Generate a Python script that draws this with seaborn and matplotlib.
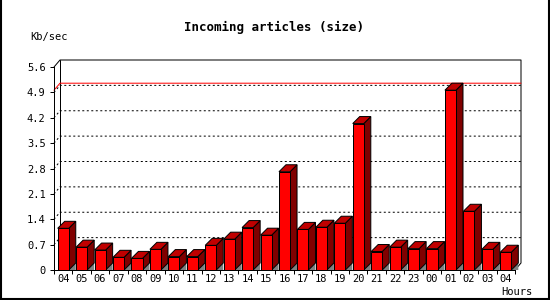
import numpy as np
import pandas as pd
import matplotlib
matplotlib.use('Agg')
import matplotlib.pyplot as plt
import seaborn as sns
from matplotlib.patches import Polygon
from matplotlib.lines import Line2D

# Data
hours = ['04', '05', '06', '07', '08', '09', '10', '11', '12', '13', '14', '15',
         '16', '17', '18', '19', '20', '21', '22', '23', '00', '01', '02', '03', '04']
rate = [1.15, 0.63, 0.55, 0.35, 0.32, 0.57, 0.37, 0.37, 0.68, 0.85, 1.17, 0.96,
        2.71, 1.12, 1.18, 1.29, 4.04, 0.51, 0.63, 0.59, 0.59, 4.96, 1.62, 0.57, 0.49]
y_ticks = [0, 0.7, 1.4, 2.1, 2.8, 3.5, 4.2, 4.9, 5.6]
y_labels = ['0', '0.7', '1.4', '2.1', '2.8', '3.5', '4.2', '4.9', '5.6']

W, H = 550, 300
FRONT = '#FF0000'
TOP = '#C00000'
SIDE = '#800000'
SHADOW = '#808080'
LW = 0.72  # one pixel
MONO = 'DejaVu Sans Mono'

df = pd.DataFrame({'slot': range(len(rate)), 'rate': rate})

sns.set_style('white')
plt.rcParams['font.family'] = [MONO, 'DejaVu Sans']
plt.rcParams['text.color'] = 'black'

fig = plt.figure(figsize=(W / 100, H / 100), dpi=100)
ax = fig.add_axes([54 / W, 30 / H, 461 / W, 203 / H])

sns.barplot(data=df, x='slot', y='rate', color=FRONT, saturation=1, width=0.6,
            edgecolor='black', linewidth=LW, ax=ax, zorder=5)

n = len(rate)
ymax = y_ticks[-1]
ax.set_xlim(-0.5, n - 0.5)
ax.set_ylim(0, ymax)

# pixel -> data unit conversions for the 3D offsets
px_x = n / 461.0
px_y = ymax / 203.0
BX, BY = 7 * px_x, 7 * px_y      # bar depth
PX, PY = 6 * px_x, 7 * px_y      # back plane offset

x0, x1 = -0.5, n - 0.5
# back plane
ax.add_patch(Polygon([(x0 + PX, PY), (x1 + PX, PY), (x1 + PX, ymax + PY), (x0 + PX, ymax + PY)],
                     closed=True, facecolor='white', edgecolor='none', clip_on=False, zorder=0))
frame = dict(color='black', lw=LW, clip_on=False, zorder=1)
ax.plot([x0, x0 + PX, x1 + PX, x1 + PX, x1], [ymax, ymax + PY, ymax + PY, PY, 0], **frame)
ax.plot([x0 + PX, x0 + PX], [PY, ymax + PY], **frame)

# dotted grid on the back plane
for t in y_ticks[1:-1]:
    ax.plot([x0, x0 + PX, x1 + PX], [t, t + PY, t + PY], color='black', lw=LW,
            linestyle=(0, (2, 2.5)), clip_on=False, zorder=1)

# red line at the maximum
m = max(rate)
ax.plot([x0, x0 + PX, x1 + PX], [m, m + PY, m + PY], color=FRONT, lw=LW,
        clip_on=False, zorder=2)

# 3D sides, tops and floor shadows
for bar, v in zip(ax.patches[:n], rate):
    a = bar.get_x()
    b = a + bar.get_width()
    ax.add_patch(Polygon([(b, 0), (b + BX, BY), (b + BX, 0)], closed=True,
                         facecolor=SHADOW, edgecolor='none', clip_on=False, zorder=3))
    ax.add_patch(Polygon([(b, 0), (b + BX, BY), (b + BX, v + BY), (b, v)], closed=True,
                         facecolor=SIDE, edgecolor='black', lw=LW, clip_on=False, zorder=4))
    ax.add_patch(Polygon([(a, v), (b, v), (b + BX, v + BY), (a + BX, v + BY)], closed=True,
                         facecolor=TOP, edgecolor='black', lw=LW, clip_on=False, zorder=4))

# axes styling
for s in ['top', 'right']:
    ax.spines[s].set_visible(False)
for s in ['left', 'bottom']:
    ax.spines[s].set_linewidth(LW)
    ax.spines[s].set_color('black')
    ax.spines[s].set_zorder(6)
ax.patch.set_visible(False)

ax.set_yticks(y_ticks)
ax.set_yticklabels(y_labels)
ax.set_xticks(range(n))
ax.set_xticklabels(hours)
ax.set_xticks(np.arange(n + 1) - 0.5, minor=True)
ax.tick_params(axis='y', which='major', left=True, length=3, width=LW, pad=3,
               labelsize=7.5, colors='black')
ax.tick_params(axis='x', which='major', bottom=False, length=0, pad=3, labelsize=7.5,
               colors='black')
ax.tick_params(axis='x', which='minor', bottom=True, length=3, width=LW, colors='black')
ax.set_xlabel('')
ax.set_ylabel('')

fig.text(274 / W, 1 - 27 / H, 'Incoming articles (size)', ha='center', va='center',
         fontsize=9, fontweight='bold', family=MONO, color='black')
fig.text(30 / W, 1 - 37 / H, 'Kb/sec', ha='left', va='center', fontsize=7.5,
         family=MONO, color='black')
fig.text(533 / W, 1 - 292 / H, 'Hours', ha='right', va='center', fontsize=7.5,
         family=MONO, color='black')

# image border (left, right, bottom)
fig.add_artist(Line2D([0.5 / W, 0.5 / W], [0, 1], color='black', lw=1.5,
                      transform=fig.transFigure))
fig.add_artist(Line2D([548.5 / W, 548.5 / W], [0, 1], color='black', lw=1.5,
                      transform=fig.transFigure))
fig.add_artist(Line2D([0, 549 / W], [1 - 298.5 / H, 1 - 298.5 / H], color='black', lw=1.5,
                      transform=fig.transFigure))

fig.savefig('out.png', dpi=100)
